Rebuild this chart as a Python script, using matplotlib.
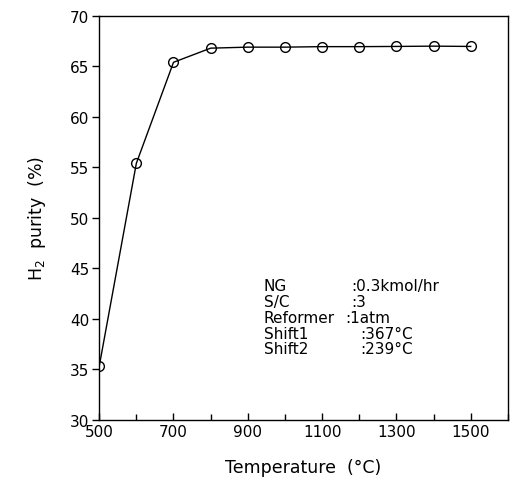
import numpy as np
import matplotlib
matplotlib.use("Agg")
import matplotlib.pyplot as plt
from matplotlib.ticker import MultipleLocator

# data
temperature = [500, 600, 700, 800, 900, 1000, 1100, 1200, 1300, 1400, 1500]
purity = [35.3, 55.4, 65.4, 66.8, 66.9, 66.9, 66.95, 66.95, 66.97, 67.0, 66.97]

cond_names = ['NG', 'S/C', 'Reformer', 'Shift1', 'Shift2']
cond_values = [':0.3kmol/hr', ':3', ':1atm', ':367°C', ':239°C']

plt.rcParams['font.family'] = 'DejaVu Sans'
fig = plt.figure(figsize=(5.14, 4.81), dpi=100)
ax = fig.add_axes([0.193, 0.125, 0.795, 0.840])

ax.plot(temperature, purity, color='black', lw=1.0, marker='o', ms=7,
        mfc='none', mec='black', mew=1.0)

ax.set_xlim(500, 1600)
ax.set_ylim(30, 70)
ax.set_xticks([500, 700, 900, 1100, 1300, 1500])
ax.xaxis.set_minor_locator(MultipleLocator(100))
ax.set_yticks(np.arange(30, 71, 5))
ax.tick_params(axis='x', direction='in', length=5, width=1, labelsize=11, pad=3)
ax.tick_params(axis='x', which='minor', direction='in', length=4, width=1)
ax.tick_params(axis='y', direction='out', length=5, width=1, labelsize=11, pad=2)
for s in ax.spines.values():
    s.set_linewidth(1.0)

ax.set_xlabel('Temperature  (°C)', fontsize=12.5, labelpad=14)
ax.set_ylabel('H$_2$  purity  (%)', fontsize=12.5, labelpad=16)

# condition block
val_x = [0.616, 0.616, 0.601, 0.638, 0.638]
for i, (n, v) in enumerate(zip(cond_names, cond_values)):
    y = 0.332 - i * 0.039
    ax.text(0.403, y, n, transform=ax.transAxes, fontsize=11, va='center', ha='left')
    ax.text(val_x[i], y, v, transform=ax.transAxes, fontsize=11, va='center', ha='left')

fig.savefig('out.png', dpi=100)
